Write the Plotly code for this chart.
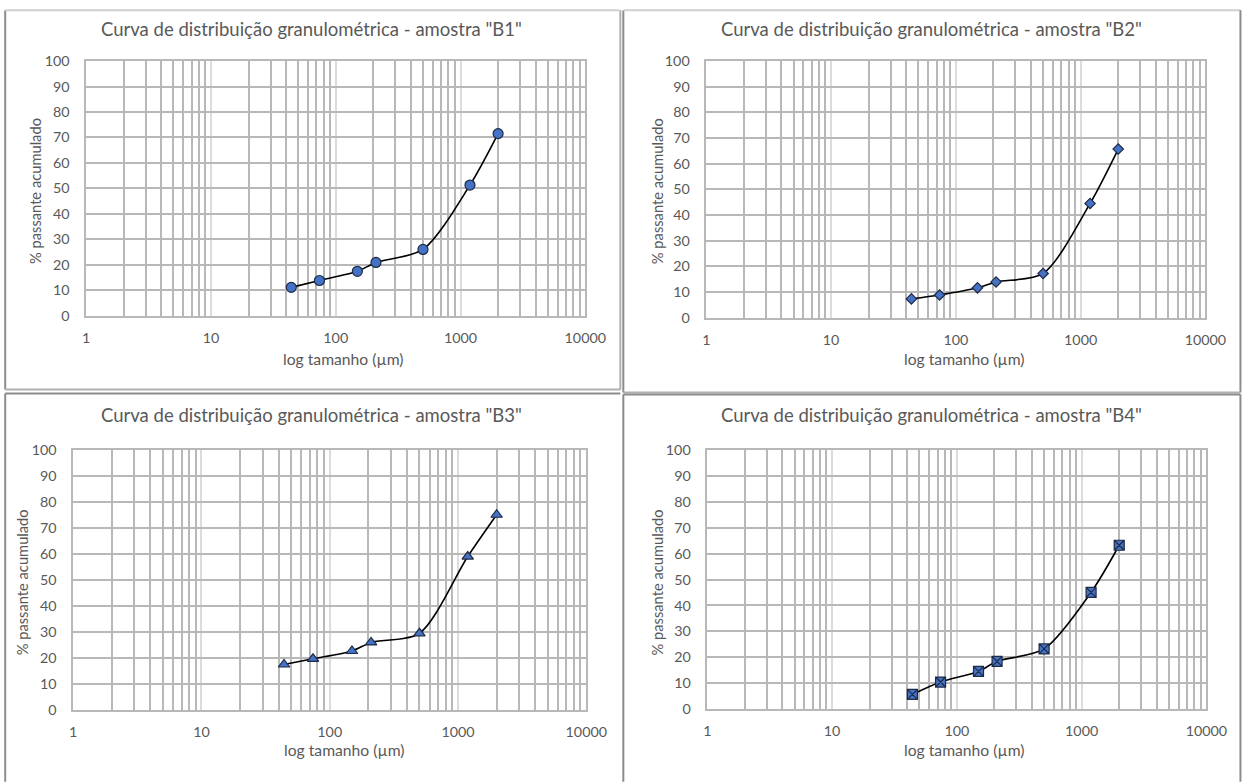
import plotly.graph_objects as go

# Page geometry: the capture comes out at ~0.98 of page pixels, with the page body offset.
S = 0.98
XO = 3.8      # horizontal offset of the figure in the picture
YOFF = 8      # vertical body margin (page pixels)
W, H = 1262, 782

sizes_um = [44, 74, 149, 210, 500, 1190, 2000]
b1_pass = [11.1, 13.8, 17.4, 20.9, 26.0, 51.3, 71.5]
b2_pass = [7.3, 8.8, 11.6, 13.9, 17.2, 44.5, 65.7]
b3_pass = [17.5, 19.7, 22.7, 26.0, 29.5, 59.1, 75.2]
b4_pass = [5.6, 10.4, 14.5, 18.4, 23.2, 45.1, 63.3]

titles = ['Curva de distribuição granulométrica - amostra "B1"',
          'Curva de distribuição granulométrica - amostra "B2"',
          'Curva de distribuição granulométrica - amostra "B3"',
          'Curva de distribuição granulométrica - amostra "B4"']
x_title = "log tamanho (µm)"
y_title = "% passante acumulado"
x_ticks = [1, 10, 100, 1000, 10000]
y_ticks = list(range(0, 101, 10))

series = [b1_pass, b2_pass, b3_pass, b4_pass]
symbols = ["circle", "diamond", "triangle-up", "square-x"]
msizes = [10, 8, 10, 10]

# positions in reference-picture pixels
areas = [(86, 585, 60, 315), (706, 1205, 60, 317), (73, 586, 450, 710), (707, 1206, 450, 709)]
title_pos = [(311, 28), (931, 28), (311, 415), (931, 415)]
xt_pos = [(343, 358), (964, 358), (344, 750), (964, 750)]
yt_pos = [(35, 190), (657, 190), (22, 582), (657, 582)]


def px(x):
    return ((x - XO) / S) / W


def py(y):
    return 1 - (y / S - YOFF) / H


def fs(v):
    return round(v / S, 1)


TXT = "#595959"
GRID = "#b8b8b8"
MAJ = "#dcdcdc"
FONT = "Lato"

fig = go.Figure()
annotations = []
for i in range(4):
    ax = "" if i == 0 else str(i + 1)
    l, r, t, b = areas[i]
    fig.add_trace(go.Scatter(
        x=sizes_um, y=series[i], mode="lines+markers",
        xaxis="x" + ax, yaxis="y" + ax,
        line=dict(color="black", width=1.6, shape="spline", smoothing=0.8),
        marker=dict(symbol=symbols[i], size=msizes[i], color="#4472C4",
                    line=dict(color="#1f2a44", width=1.2)),
        showlegend=False, cliponaxis=False))
    fig.update_layout(**{
        "xaxis" + ax: dict(
            type="log", range=[0, 4], domain=[px(l), px(r)], anchor="y" + ax,
            tickvals=x_ticks, ticktext=[str(v) for v in x_ticks],
            showgrid=True, gridcolor=MAJ, gridwidth=1.5,
            minor=dict(dtick="D1", showgrid=True, gridcolor=GRID, gridwidth=1.5, ticks=""),
            showline=True, linecolor=GRID, linewidth=1.5, mirror=True,
            ticks="outside", ticklen=8, tickcolor="rgba(0,0,0,0)", zeroline=False,
            tickfont=dict(family=FONT, size=fs(14), color=TXT),
        ),
        "yaxis" + ax: dict(
            range=[0, 100], domain=[py(b), py(t)], anchor="x" + ax,
            tickvals=y_ticks, showgrid=True, gridcolor=GRID, gridwidth=1.5,
            showline=True, linecolor=GRID, linewidth=1.5, mirror=True,
            ticks="outside", ticklen=12, tickcolor="rgba(0,0,0,0)", zeroline=False,
            tickfont=dict(family=FONT, size=fs(14), color=TXT),
        ),
    })
    tx, ty = title_pos[i]
    annotations.append(dict(text=titles[i], x=px(tx), y=py(ty), xref="paper", yref="paper",
                            xanchor="center", yanchor="middle", showarrow=False,
                            font=dict(family=FONT, size=fs(18.1), color=TXT)))
    xx, xy = xt_pos[i]
    annotations.append(dict(text=x_title, x=px(xx), y=py(xy), xref="paper", yref="paper",
                            xanchor="center", yanchor="middle", showarrow=False,
                            font=dict(family=FONT, size=fs(15.4), color=TXT)))
    yx, yy = yt_pos[i]
    annotations.append(dict(text=y_title, x=px(yx), y=py(yy), xref="paper", yref="paper",
                            xanchor="center", yanchor="middle", showarrow=False, textangle=-90,
                            font=dict(family=FONT, size=fs(14.4), color=TXT)))

shapes = []


def line(x0, y0, x1, y1, color="#a6a6a6", w=2):
    shapes.append(dict(type="line", xref="paper", yref="paper",
                       x0=px(x0), y0=py(y0), x1=px(x1), y1=py(y1),
                       line=dict(color=color, width=w)))


# panel frames
L0, T0, R0 = 5, 9, 1240
line(L0, T0, L0, 389, "#8c8c8c", 2)
line(L0, T0, 619, T0, "#d0d0d0", 2)
line(L0, 389, 620, 389, "#b0b0b0", 2)
line(620, T0, 620, 389, "#b0b0b0", 2)
line(623, T0, 623, 392, "#8c8c8c", 2)
line(623, T0, R0, T0, "#d0d0d0", 2)
line(R0, T0, R0, 392, "#8c8c8c", 2)
line(623, 392, R0, 392, "#b0b0b0", 2)
line(L0, 393, 620, 393, "#8c8c8c", 2)
line(L0, 393, L0, 782, "#8c8c8c", 2)
line(623, 394, R0, 394, "#8c8c8c", 2)
line(623, 394, 623, 782, "#8c8c8c", 2)
line(R0, 394, R0, 782, "#8c8c8c", 2)

fig.update_layout(width=W, height=H, margin=dict(l=0, r=0, t=0, b=0),
                  paper_bgcolor="white", plot_bgcolor="white",
                  annotations=annotations, shapes=shapes)
fig.write_html("out.html")
